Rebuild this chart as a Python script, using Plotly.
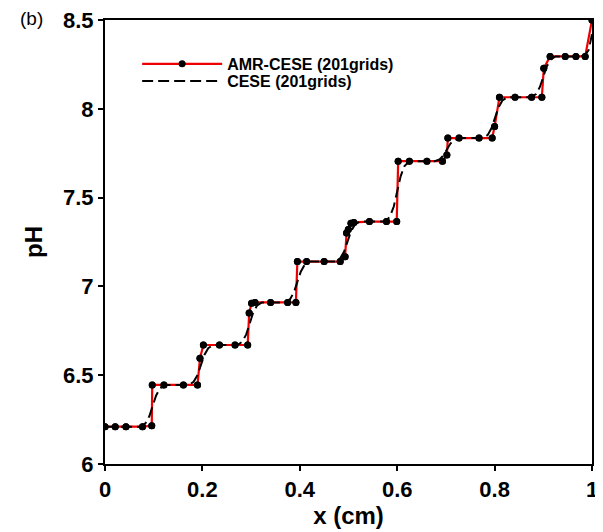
import plotly.graph_objects as go

# AMR-CESE (201 grids) — adaptive, non-uniform points
amr_x = [0.0, 0.021, 0.043, 0.077, 0.096,
         0.097, 0.121, 0.161, 0.190,
         0.195,
         0.202, 0.235, 0.267, 0.293,
         0.296,
         0.301, 0.308, 0.340, 0.375, 0.392,
         0.395, 0.414, 0.450, 0.483,
         0.493, 0.496, 0.4996, 0.505, 0.511,
         0.543, 0.578, 0.599,
         0.602, 0.625, 0.661, 0.693,
         0.702, 0.704,
         0.727, 0.768, 0.795,
         0.800,
         0.810, 0.842, 0.876, 0.897,
         0.901,
         0.914, 0.945, 0.967, 0.986,
         1.0]
amr_y = [6.21, 6.21, 6.21, 6.21, 6.215,
         6.445, 6.445, 6.445, 6.445,
         6.595,
         6.67, 6.67, 6.67, 6.67,
         6.85,
         6.905, 6.91, 6.91, 6.91, 6.91,
         7.14, 7.14, 7.14, 7.14,
         7.167, 7.30, 7.32, 7.355, 7.36,
         7.365, 7.365, 7.365,
         7.705, 7.705, 7.705, 7.705,
         7.74, 7.835,
         7.835, 7.835, 7.835,
         7.90,
         8.065, 8.065, 8.065, 8.065,
         8.228,
         8.295, 8.295, 8.295, 8.295,
         8.5]

# CESE (201 grids) — smeared steps
cese_x = [0.0,
          0.073, 0.083, 0.091, 0.098, 0.105, 0.113, 0.123,
          0.172, 0.182, 0.190, 0.197, 0.204, 0.212, 0.222,
          0.272, 0.282, 0.290, 0.297, 0.304, 0.312, 0.322,
          0.370, 0.380, 0.388, 0.395, 0.402, 0.410, 0.420,
          0.473, 0.483, 0.491, 0.498, 0.505, 0.513, 0.523,
          0.575, 0.585, 0.593, 0.600, 0.607, 0.615, 0.625,
          0.677, 0.687, 0.695, 0.702, 0.709, 0.717, 0.727,
          0.776, 0.786, 0.794, 0.801, 0.808, 0.816, 0.826,
          0.875, 0.885, 0.893, 0.900, 0.907, 0.915, 0.925,
          0.975, 0.985, 0.993, 1.0]
cese_y = [6.21,
          6.21, 6.229, 6.269, 6.328, 6.386, 6.426, 6.445,
          6.445, 6.463, 6.501, 6.558, 6.614, 6.652, 6.67,
          6.67, 6.689, 6.73, 6.79, 6.85, 6.891, 6.91,
          6.91, 6.928, 6.968, 7.025, 7.083, 7.122, 7.14,
          7.14, 7.158, 7.196, 7.253, 7.309, 7.347, 7.365,
          7.365, 7.392, 7.45, 7.535, 7.62, 7.678, 7.705,
          7.705, 7.715, 7.738, 7.77, 7.803, 7.825, 7.835,
          7.835, 7.853, 7.893, 7.95, 8.008, 8.047, 8.065,
          8.065, 8.083, 8.123, 8.18, 8.238, 8.277, 8.295,
          8.295, 8.30, 8.33, 8.42]

x_ticks = [0, 0.2, 0.4, 0.6, 0.8, 1]
y_ticks = [6, 6.5, 7, 7.5, 8, 8.5]

FONT = "Arial, Liberation Sans, sans-serif"

fig = go.Figure()
fig.add_trace(go.Scatter(
    x=amr_x, y=amr_y, mode="lines+markers", name="AMR-CESE (201grids)",
    line=dict(color="#ee0000", width=2.2),
    marker=dict(color="black", size=7), legend="legend"))
fig.add_trace(go.Scatter(
    x=cese_x, y=cese_y, mode="lines", name="CESE (201grids)",
    line=dict(color="black", width=2, dash="11px,5px"), legend="legend2"))
fig.add_trace(go.Scatter(
    x=amr_x, y=amr_y, mode="markers", showlegend=False, hoverinfo="skip",
    marker=dict(color="black", size=7)))

axis_common = dict(
    showline=True, linecolor="black", linewidth=2, mirror=True,
    ticks="outside", ticklen=5, tickwidth=2, tickcolor="black",
    showgrid=False, zeroline=False, automargin=False, ticklabeloverflow="allow",
    tickfont=dict(family=FONT, size=22, color="black", weight="bold"),
)

leg_font = dict(family=FONT, size=16, color="black", weight="bold")

fig.update_layout(
    width=595, height=524,
    margin=dict(l=97, r=11, t=12, b=68),
    paper_bgcolor="white", plot_bgcolor="white",
    font=dict(family=FONT, color="black"),
    xaxis=dict(range=[0, 1], tickvals=x_ticks, ticktext=[str(v) for v in x_ticks],
               title=dict(text="x (cm)", font=dict(family=FONT, size=24, weight="bold"), standoff=0),
               **axis_common),
    yaxis=dict(range=[6, 8.5], tickvals=y_ticks, ticktext=[str(v) for v in y_ticks],
               title=dict(text="pH", font=dict(family=FONT, size=24, weight="bold"), standoff=14),
               **axis_common),
    legend=dict(x=0.066, y=0.901, xanchor="left", yanchor="middle",
                bgcolor="rgba(0,0,0,0)", itemwidth=80, font=leg_font),
    legend2=dict(x=0.066, y=0.8626, xanchor="left", yanchor="middle",
                 bgcolor="rgba(0,0,0,0)", itemwidth=80, font=leg_font),
    annotations=[dict(text="(b)", xref="paper", yref="paper", x=-0.1786, y=1.0045,
                      xanchor="left", yanchor="middle", showarrow=False,
                      font=dict(family=FONT, size=19, color="black"))],
)

fig.write_html("out.html")
